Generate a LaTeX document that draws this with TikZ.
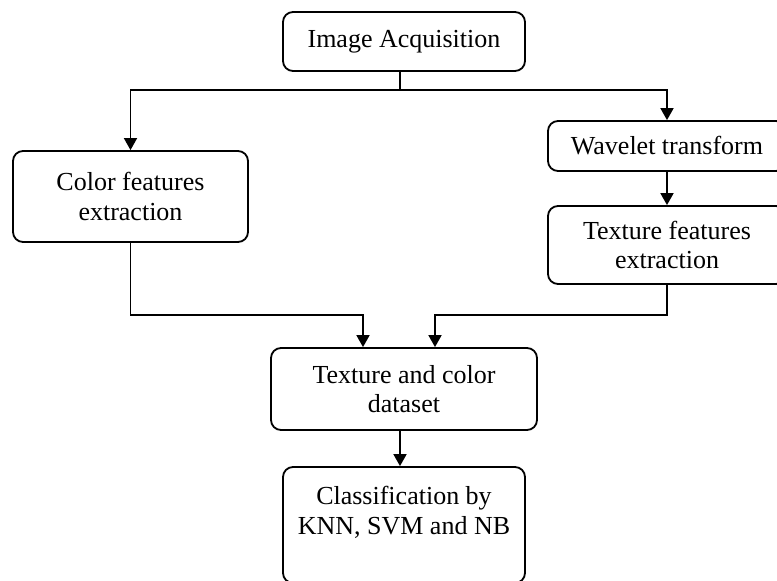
\documentclass[tikz,border=0pt]{standalone}
\usepackage{fontspec}
\setmainfont{Liberation Serif}
\usetikzlibrary{arrows.meta}

\begin{document}
\begin{tikzpicture}[x=1pt,y=-1pt,
  box/.style={draw, line width=1.8pt, rounded corners=10pt, align=center,
    inner sep=0pt, font=\fontsize{26}{29.5}\selectfont},
  flow/.style={line width=1.8pt},
  arr/.style={flow, -{Triangle[width=13pt,length=12pt]}}]
  \useasboundingbox (0,0) rectangle (777,581);

  % processing steps
  \node[box, minimum width=242pt, minimum height=59pt] (acq) at (404,41.5) {Image Acquisition};
  \node[box, minimum width=235pt, minimum height=91pt] (color) at (130.5,196.5) {Color features\\extraction};
  \node[box, minimum width=238pt, minimum height=50pt] (wave) at (667,146) {Wavelet transform};
  \node[box, minimum width=238pt, minimum height=78pt] (tex) at (667,245) {Texture features\\extraction};
  \node[box, minimum width=266pt, minimum height=82pt] (data) at (404,389) {Texture and color\\dataset};
  \node[box, minimum width=242pt, minimum height=116pt] (cls) at (404,525) {Classification by\\KNN, SVM and NB\\ \mbox{}};

  % junction points of the connectors
  \coordinate (split) at (400,90);
  \coordinate (joinL) at (363,315);
  \coordinate (joinR) at (435,315);
  \coordinate (down) at (400,430);

  % split into the two branches
  \draw[flow] (acq.south -| split) -- (split);
  \draw[arr] (split) -| (color.north);
  \draw[arr] (split) -| (wave.north);
  \draw[arr] (wave) -- (tex);

  % merge into the dataset
  \draw[arr] (color.south) |- (joinL) -- (data.north -| joinL);
  \draw[arr] (tex.south) |- (joinR) -- (data.north -| joinR);

  % classification
  \draw[arr] (data.south -| down) -- (cls.north -| down);
\end{tikzpicture}
\end{document}
